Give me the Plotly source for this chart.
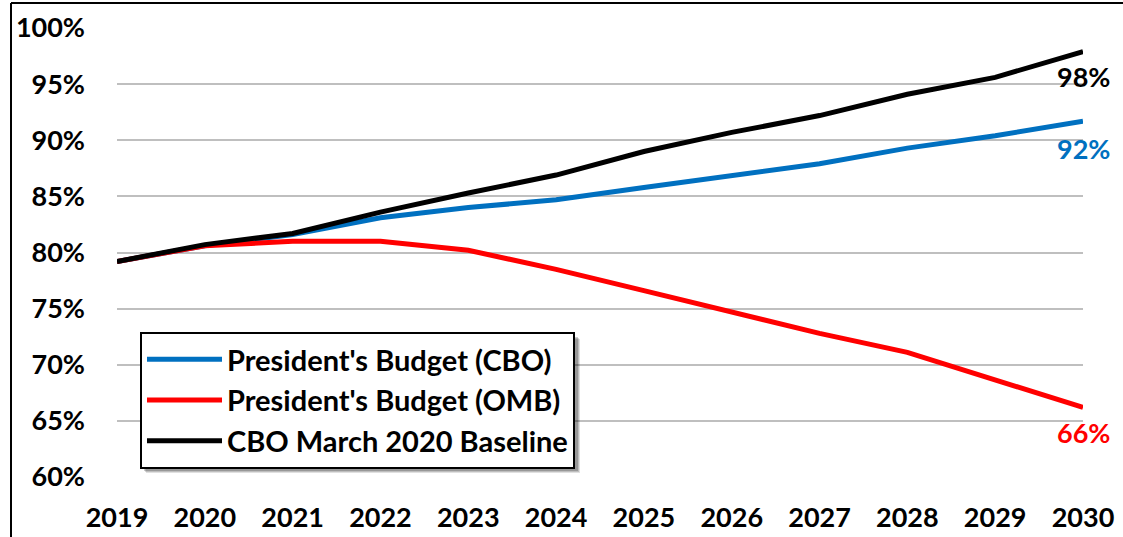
import plotly.graph_objects as go

years = list(range(2019, 2031))
cbo_president = [79.2, 80.6, 81.6, 83.1, 84.0, 84.7, 85.8, 86.8, 87.9, 89.3, 90.4, 91.7]
omb_president = [79.2, 80.6, 81.0, 81.0, 80.2, 78.5, 76.6, 74.7, 72.8, 71.1, 68.6, 66.2]
cbo_baseline = [79.2, 80.7, 81.7, 83.6, 85.3, 86.9, 89.0, 90.7, 92.2, 94.1, 95.6, 97.9]
y_ticks = [60, 65, 70, 75, 80, 85, 90, 95, 100]

BLUE = "#0070C0"
RED = "#FF0000"
BLACK = "#000000"
FONT = "Lato"

fig = go.Figure()
fig.add_trace(go.Scatter(x=years, y=cbo_president, mode="lines", name="President's Budget (CBO)",
                         legendgroup="a", line=dict(color=BLUE, width=5)))
fig.add_trace(go.Scatter(x=years, y=omb_president, mode="lines", name="President's Budget (OMB)",
                         legendgroup="b", line=dict(color=RED, width=5)))
fig.add_trace(go.Scatter(x=years, y=cbo_baseline, mode="lines", name="CBO March 2020 Baseline",
                         legendgroup="c", line=dict(color=BLACK, width=5)))

# end labels
for vals, col, dy in [(cbo_baseline, BLACK, -25), (cbo_president, BLUE, -27), (omb_president, RED, -25)]:
    fig.add_annotation(x=years[-1], y=vals[-1], text=f"{round(vals[-1])}%", showarrow=False,
                       xanchor="center", yshift=dy, xshift=0,
                       font=dict(family=FONT, size=27, color=col, weight="bold"))

# legend shadow (soft, offset down-right)
for off, alpha in [(6, 0.12), (5, 0.15), (4, 0.2)]:
    fig.add_shape(type="rect", xref="paper", yref="paper",
                  x0=(140 + off - 117) / 966, x1=(574 + off - 117) / 966,
                  y0=(477 - (467 + off)) / 449, y1=(477 - (333 + off)) / 449,
                  fillcolor=f"rgba(0,0,0,{alpha})", line=dict(width=0), layer="above")

# border lines of the original frame
fig.add_shape(type="line", xref="paper", yref="paper",
              x0=(11 - 117) / 966, x1=(11 - 117) / 966, y0=-0.3, y1=1 + 25 / 449,
              line=dict(color="black", width=2))
fig.add_shape(type="line", xref="paper", yref="paper",
              x0=(11 - 117) / 966, x1=1.1, y0=1 + 25 / 449, y1=1 + 25 / 449,
              line=dict(color="black", width=2))

fig.update_layout(
    width=1123, height=537,
    margin=dict(l=117, r=40, t=28, b=60),
    paper_bgcolor="white", plot_bgcolor="white",
    font=dict(family=FONT, size=27, color="black", weight="bold"),
    showlegend=True,
    legend=dict(x=(140 - 117) / 966, y=(477 - 332) / 449, xanchor="left", yanchor="top",
                bgcolor="white", bordercolor="black", borderwidth=2,
                font=dict(family=FONT, size=29, color="black", weight="bold"),
                itemwidth=75, tracegroupgap=0),
    xaxis=dict(range=[2019, 2030], tickmode="array", tickvals=years, ticktext=[str(y) for y in years],
               showgrid=False, zeroline=False, showline=False, ticks="", ticklabelstandoff=22,
               automargin=False, tickfont=dict(family=FONT, size=27, weight="bold")),
    yaxis=dict(range=[60, 100], tickmode="array", tickvals=y_ticks, ticktext=[f"{v}%" for v in y_ticks],
               showgrid=True, gridcolor="#BFBFBF", gridwidth=2, zeroline=False, showline=False,
               ticks="", ticklabelstandoff=31, automargin=False,
               tickfont=dict(family=FONT, size=27, weight="bold")),
)

fig.write_html("out.html")
